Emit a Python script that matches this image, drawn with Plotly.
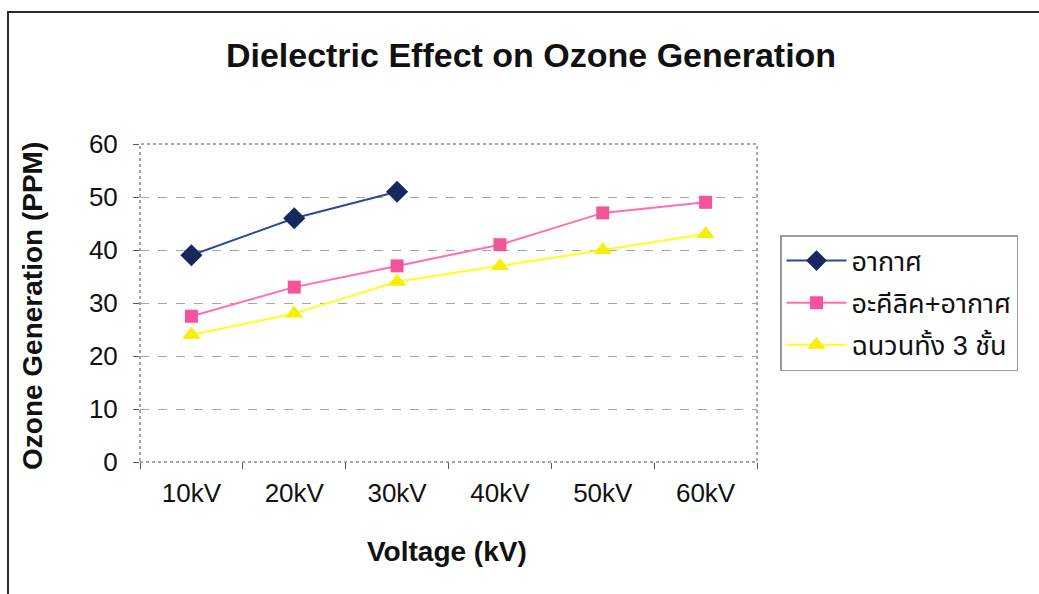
import plotly.graph_objects as go

# Data
voltages = ["10kV", "20kV", "30kV", "40kV", "50kV", "60kV"]
air = [39, 46, 51]
acrylic_air = [27.5, 33, 37, 41, 47, 49]
three_layer = [24, 28, 34, 37, 40, 43]

series_names = ["อากาศ", "อะคีลิค+อากาศ", "ฉนวนทั้ง 3 ชั้น"]

FONT = "Liberation Sans, Arial, Noto Sans Thai, Noto Sans, sans-serif"

fig = go.Figure()

fig.add_trace(go.Scatter(
    x=voltages[:len(air)], y=air, name=series_names[0], mode="lines+markers",
    line=dict(color="#2a4b92", width=2),
    marker=dict(symbol="diamond", size=17, color="#15295e"),
    legendgroup="a",
))
fig.add_trace(go.Scatter(
    x=voltages, y=acrylic_air, name=series_names[1], mode="lines+markers",
    line=dict(color="#ff6fae", width=2),
    marker=dict(symbol="square", size=13, color="#f4559a"),
    legendgroup="b",
))
fig.add_trace(go.Scatter(
    x=voltages, y=three_layer, name=series_names[2], mode="lines+markers",
    line=dict(color="#ffff1a", width=2),
    marker=dict(symbol="triangle-up", size=16, color="#f7f000"),
    legendgroup="c",
))

W, H = 1039, 594
L, R, T, B = 140, 757, 144, 462


def px_x(p):
    return (p - L) / (R - L)


def px_y(p):
    return (B - p) / (B - T)


shapes = [
    # chart outline
    dict(type="rect", xref="paper", yref="paper",
         x0=px_x(8), x1=px_x(1050), y0=px_y(605), y1=px_y(12),
         line=dict(color="#2b2b2b", width=2), layer="below"),
    # plot area outline
    dict(type="rect", xref="paper", yref="paper",
         x0=0, x1=1, y0=0, y1=1,
         line=dict(color="#8a8a8a", width=1.5, dash="dot"), layer="above"),
]

annotations = [
    dict(text="<b>Ozone Generation (PPM)</b>", xref="paper", yref="paper",
         x=px_x(32), y=px_y(306), textangle=-90, showarrow=False,
         font=dict(family=FONT, size=28, color="#111111"),
         xanchor="center", yanchor="middle"),
    dict(text="<b>Voltage (kV)</b>", xref="paper", yref="paper",
         x=px_x(447), y=px_y(551), showarrow=False,
         font=dict(family=FONT, size=28, color="#111111"),
         xanchor="center", yanchor="middle"),
]

fig.update_layout(
    width=W, height=H,
    margin=dict(l=L, r=W - R, t=T, b=H - B),
    paper_bgcolor="white", plot_bgcolor="white",
    font=dict(family=FONT, size=24, color="#111111"),
    title=dict(text="<b>Dielectric Effect on Ozone Generation</b>",
               x=531 / W, xref="container", xanchor="center",
               y=1 - 55 / H, yref="container", yanchor="middle",
               font=dict(family=FONT, size=34, color="#111111")),
    showlegend=True,
    legend=dict(x=px_x(780), y=px_y(235), xanchor="left", yanchor="top",
                bordercolor="#9a9a9a", borderwidth=1.5, bgcolor="white",
                font=dict(family=FONT, size=27, color="#111111"),
                tracegroupgap=4, itemwidth=60),
    shapes=shapes,
    annotations=annotations,
)

fig.update_xaxes(
    type="category", categoryorder="array", categoryarray=voltages,
    range=[-0.5, 5.5], tickson="boundaries",
    ticks="outside", ticklen=6, tickcolor="#555555", tickwidth=1,
    showgrid=False, showline=False, zeroline=False,
    tickfont=dict(family=FONT, size=26, color="#111111"),
    ticklabelstandoff=13,
)
fig.update_yaxes(
    range=[0, 60], dtick=10, tick0=0,
    ticks="outside", ticklen=6, tickcolor="#555555", tickwidth=1,
    showgrid=True, gridcolor="#a8a8a0", gridwidth=1, griddash="dash",
    showline=False, zeroline=False,
    tickfont=dict(family=FONT, size=26, color="#111111"),
    ticklabelstandoff=10,
)

fig.write_html("out.html")
